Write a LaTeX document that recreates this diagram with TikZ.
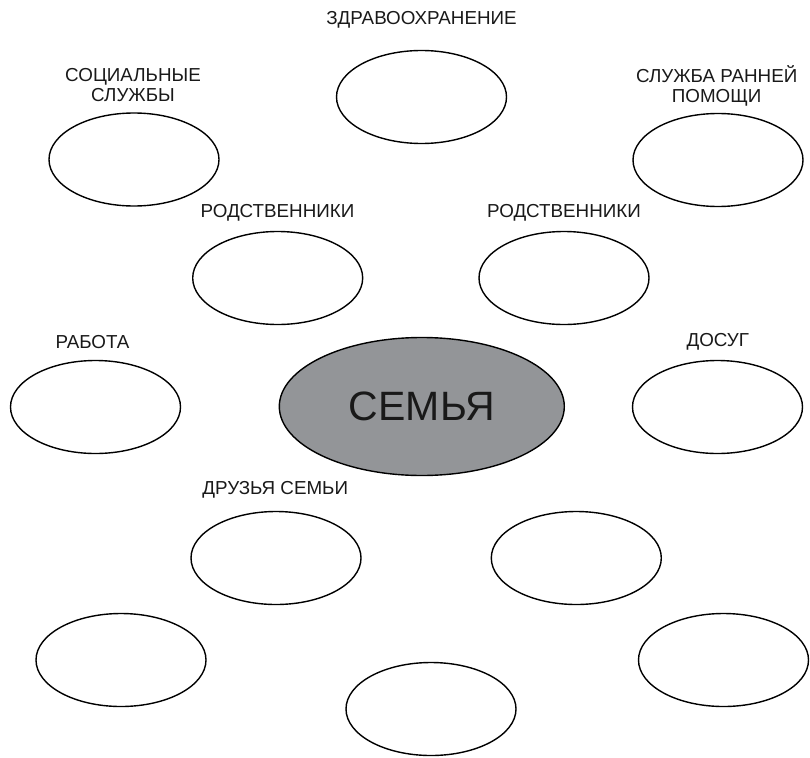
\documentclass[tikz,border=0pt]{standalone}
\usepackage{fontspec}
\setmainfont{Liberation Sans}
\usetikzlibrary{shapes.geometric}
\definecolor{famgray}{RGB}{147,149,152}
\begin{document}
\begin{tikzpicture}[x=1pt,y=-1pt,
  ovalbox/.style={ellipse,draw=black,line width=1.4pt,fill=white,inner sep=0pt,
    minimum width=170pt,minimum height=93pt},
  lbl/.style={font=\fontsize{18.8}{20.5}\selectfont,align=center,text=black!90,inner sep=0pt}]
\useasboundingbox (0,0) rectangle (810,757);
% ellipses
\node[ovalbox] (health) at (421.5,97) {};
\node[ovalbox] (social) at (134,159.5) {};
\node[ovalbox] (early) at (718,160) {};
\node[ovalbox] (relL) at (277.7,278) {};
\node[ovalbox] (relR) at (564,278) {};
\node[ovalbox] (work) at (95.5,407) {};
\node[ellipse,draw=black,line width=1.4pt,fill=famgray,inner sep=0pt,
  minimum width=285pt,minimum height=138pt,
  font=\fontsize{41}{45}\selectfont,text=black!90] (family) at (421.8,406.5) {СЕМЬЯ};
\node[ovalbox] (leisure) at (717.5,407) {};
\node[ovalbox] (friends) at (276,558) {};
\node[ovalbox] (midR) at (576.3,558) {};
\node[ovalbox] (botL) at (121,660) {};
\node[ovalbox] (botR) at (723.5,660) {};
\node[ovalbox] (botC) at (431,709) {};
% labels
\node[lbl] (lhealth) at (421.5,19.5) {ЗДРАВООХРАНЕНИЕ};
\node[lbl] (lsocial) at (133,85) {СОЦИАЛЬНЫЕ\\СЛУЖБЫ};
\node[lbl] (learly) at (716.7,86) {СЛУЖБА РАННЕЙ\\ПОМОЩИ};
\node[lbl] (lrelL) at (277.5,213) {РОДСТВЕННИКИ};
\node[lbl] (lrelR) at (564,213) {РОДСТВЕННИКИ};
\node[lbl] (lwork) at (92.5,342) {РАБОТА};
\node[lbl] (lleisure) at (717.8,342) {ДОСУГ};
\node[lbl] (lfriends) at (275.3,490) {ДРУЗЬЯ СЕМЬИ};
\end{tikzpicture}
\end{document}
